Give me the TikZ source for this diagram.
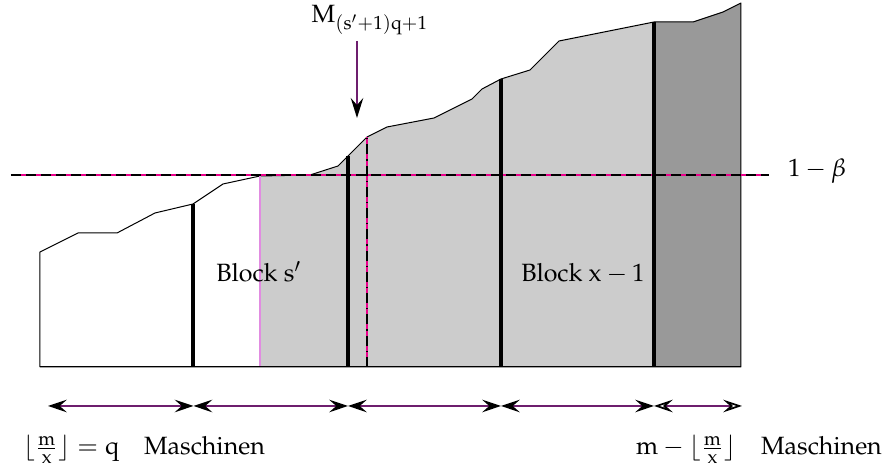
\documentclass[tikz,border=0pt]{standalone}
\usepackage[T1]{fontenc}
\usepackage{mathpazo}
\usetikzlibrary{arrows.meta}
\definecolor{arrcol}{RGB}{110,30,110}
\definecolor{lgray}{RGB}{204,204,204}
\definecolor{dgray}{RGB}{153,153,153}
\definecolor{pinkline}{RGB}{225,140,225}
\tikzset{
  profile/.style={draw=black,line width=0.4pt,line join=round},
  blockline/.style={draw=black,line width=1.3pt},
  dimarrow/.style={arrcol,line width=0.7pt,{Stealth[black,length=7.5pt,width=5pt,inset=2.8pt]}-{Stealth[black,length=7.5pt,width=5pt,inset=2.8pt]}},
  openarrow/.style={arrcol,line width=0.7pt,{Stealth[black,open,length=7.5pt,width=5pt,inset=2.8pt]}-{Stealth[black,open,length=7.5pt,width=5pt,inset=2.8pt]}},
  lbl/.style={inner sep=0pt,anchor=base}
}
\begin{document}
\begin{tikzpicture}[x=0.4pt,y=-0.4pt]
\useasboundingbox (0,0) rectangle (883,471);
% fills
\fill[lgray] (260,367) -- (260,176) -- (310,175) -- (338,166) -- (348,156) -- (367,137) -- (387,127) -- (434,118) -- (472,99) -- (482,89) -- (501,79) -- (530,70) -- (559,41) -- (654,22) -- (654,367) -- cycle;
\fill[dgray] (654,367) -- (654,22) -- (693,22) -- (723,12) -- (741,3) -- (741,367) -- cycle;
% outline
\draw[profile] (40,367) -- (40,252) -- (78,233) -- (117,233) -- (155,213) -- (193,204) -- (223,184) -- (260,176) -- (310,175) -- (338,166) -- (348,156) -- (367,137) -- (387,127) -- (434,118) -- (472,99) -- (482,89) -- (501,79) -- (530,70) -- (559,41) -- (654,22) -- (693,22) -- (723,12) -- (741,3) -- (741,367) -- cycle;
% dashed level line
\coordinate (hl) at (11,175);
\coordinate (hr) at (769,175);
\draw[magenta,line width=0.5pt] (hl) -- (hr);
\draw[black,line width=0.5pt,dash pattern=on 4pt off 2pt] (hl) -- (hr);
% pink boundary
\coordinate (pb) at (260,367);
\coordinate (pt) at (260,176);
\draw[pinkline,line width=0.6pt] (pb) -- (pt);
% dash-dot vertical
\coordinate (db) at (367,367);
\coordinate (dt) at (367,137);
\draw[magenta,line width=0.6pt] (db) -- (dt);
\draw[black,line width=0.5pt,dash pattern=on 4pt off 2pt on 0.5pt off 2pt] (db) -- (dt);
% block lines
\coordinate (b1t) at (193,204); \coordinate (b1b) at (193,367);
\coordinate (b2t) at (348,156); \coordinate (b2b) at (348,367);
\coordinate (b3t) at (501,79);  \coordinate (b3b) at (501,367);
\coordinate (b4t) at (654,22);  \coordinate (b4b) at (654,367);
\draw[blockline] (b1t) -- (b1b);
\draw[blockline] (b2t) -- (b2b);
\draw[blockline] (b3t) -- (b3b);
\draw[blockline] (b4t) -- (b4b);
% bottom line
\draw[profile] (40,367) -- (741,367);
% dimension arrows
\coordinate (a0) at (48,406);
\coordinate (a1) at (193.5,406);
\coordinate (a2) at (348,406);
\coordinate (a3) at (501,406);
\coordinate (a4) at (654,406);
\coordinate (a5) at (742,406);
\draw[dimarrow] (a0) -- (a1);
\draw[dimarrow] (a1) -- (a2);
\draw[dimarrow] (a2) -- (a3);
\draw[dimarrow] (a3) -- (a4);
\draw[openarrow] (a4) -- (a5);
% M arrow
\coordinate (mt) at (357,41);
\coordinate (mb) at (357,118);
\draw[arrcol,line width=0.7pt,-{Stealth[black,length=8pt,width=5pt,inset=2.8pt]}] (mt) -- (mb);
% labels
\node[lbl] (mlab) at (370,23) {$\mathrm{M}_{(\mathrm{s}'+1)\mathrm{q}+1}$};
\node[lbl] (beta) at (817,177) {$1-\beta$};
\node[lbl] (bs) at (259,282) {Block $\mathrm{s}'$};
\node[lbl] (bx) at (583,282) {Block $\mathrm{x}-1$};
\node[lbl] (ll) at (144,455) {$\lfloor\frac{\mathrm{m}}{\mathrm{x}}\rfloor = \mathrm{q}$\quad Maschinen};
\node[lbl] (rl) at (759,455) {$\mathrm{m}-\lfloor\frac{\mathrm{m}}{\mathrm{x}}\rfloor$\quad Maschinen};
\end{tikzpicture}
\end{document}
